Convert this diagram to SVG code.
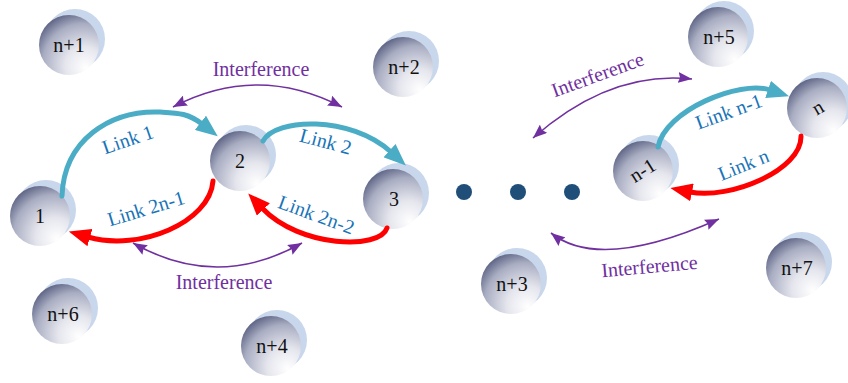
<svg xmlns="http://www.w3.org/2000/svg" width="848" height="383" viewBox="0 0 848 383">
<style>
.shadow{fill:#c9d7ec}
.ball{fill:url(#sphere)}
.nlabel{font-family:"Liberation Serif","Times New Roman",serif;font-size:20px;fill:#111;text-anchor:middle}
.link{fill:none;stroke-width:5;stroke-linecap:round}
.teal{stroke:#4bacc6}
.red{stroke:#ff0000}
.intf{fill:none;stroke:#7030a0;stroke-width:1.6}
.llabel{font-family:"Liberation Serif","Times New Roman",serif;font-size:20px;fill:#1874b8;text-anchor:middle}
.ilabel{font-family:"Liberation Serif","Times New Roman",serif;font-size:20px;fill:#7030a0;text-anchor:middle}
.dot{fill:#1f4e79}
</style>
<defs>
<radialGradient id="sphere" cx="0.72" cy="0.8" r="0.9" fx="0.78" fy="0.88">
<stop offset="0" stop-color="#ffffff"/>
<stop offset="0.35" stop-color="#e6e7ee"/>
<stop offset="0.75" stop-color="#a9adc2"/>
<stop offset="1" stop-color="#555c7e"/>
</radialGradient>
<marker id="ahTeal" markerUnits="userSpaceOnUse" markerWidth="22" markerHeight="18" refX="2" refY="9" orient="auto" viewBox="0 0 22 18"><path d="M0,0 L22,9 L0,18 Z" fill="#4bacc6"/></marker>
<marker id="ahRed" markerUnits="userSpaceOnUse" markerWidth="22" markerHeight="18" refX="2" refY="9" orient="auto" viewBox="0 0 22 18"><path d="M0,0 L22,9 L0,18 Z" fill="#ff0000"/></marker>
<marker id="ahPurple" markerUnits="userSpaceOnUse" markerWidth="14" markerHeight="11" refX="14" refY="5.5" orient="auto-start-reverse" viewBox="0 0 14 11"><path d="M0,0 L14,5.5 L0,11 L2,5.5 Z" fill="#7030a0"/></marker>
</defs>

<g id="node-n1"><circle class="shadow" cx="75" cy="39" r="30"/><circle class="ball" cx="69" cy="45" r="30"/><text class="nlabel" x="69" y="52">n+1</text></g>
<g id="node-n2"><circle class="shadow" cx="409" cy="61" r="30"/><circle class="ball" cx="403" cy="67" r="30"/><text class="nlabel" x="404" y="74">n+2</text></g>
<g id="node-n5"><circle class="shadow" cx="724" cy="31" r="30"/><circle class="ball" cx="718" cy="37" r="30"/><text class="nlabel" x="719" y="44">n+5</text></g>
<g id="node-1"><circle class="shadow" cx="46" cy="210" r="30"/><circle class="ball" cx="40" cy="216" r="30"/><text class="nlabel" x="40" y="223">1</text></g>
<g id="node-2"><circle class="shadow" cx="246" cy="155" r="30"/><circle class="ball" cx="240" cy="161" r="30"/><text class="nlabel" x="240" y="168">2</text></g>
<g id="node-3"><circle class="shadow" cx="399" cy="193" r="30"/><circle class="ball" cx="393" cy="199" r="30"/><text class="nlabel" x="394" y="206">3</text></g>
<g id="node-nm1"><circle class="shadow" cx="649" cy="165" r="30"/><circle class="ball" cx="643" cy="171" r="30"/><text class="nlabel" x="643" y="177" transform="rotate(-32 643 171)">n-1</text></g>
<g id="node-n"><circle class="shadow" cx="823" cy="102" r="30"/><circle class="ball" cx="817" cy="108" r="30"/><text class="nlabel" x="818" y="114" transform="rotate(-30 818 108)">n</text></g>
<g id="node-n6"><circle class="shadow" cx="68" cy="308" r="30"/><circle class="ball" cx="62" cy="314" r="30"/><text class="nlabel" x="63" y="321">n+6</text></g>
<g id="node-n4"><circle class="shadow" cx="277" cy="340" r="30"/><circle class="ball" cx="271" cy="346" r="30"/><text class="nlabel" x="272" y="353">n+4</text></g>
<g id="node-n3"><circle class="shadow" cx="517" cy="278" r="30"/><circle class="ball" cx="511" cy="284" r="30"/><text class="nlabel" x="512" y="291">n+3</text></g>
<g id="node-n7"><circle class="shadow" cx="802" cy="262" r="30"/><circle class="ball" cx="796" cy="268" r="30"/><text class="nlabel" x="797" y="275">n+7</text></g>

<g id="ellipsis"><circle class="dot" cx="464" cy="192" r="8"/><circle class="dot" cx="518" cy="192" r="8"/><circle class="dot" cx="572" cy="192" r="8"/></g>

<g id="connectors">
<path class="link teal" d="M62,196 C64,140 110,110 160,112 C178,113 188,113 202,124" marker-end="url(#ahTeal)"/>
<path class="link teal" d="M263,141 C275,118 350,115 391,152" marker-end="url(#ahTeal)"/>
<path class="link red" d="M213,181 C210,222 140,252 88,237" marker-end="url(#ahRed)"/>
<path class="link red" d="M387,228 C380,250 300,248 262,208" marker-end="url(#ahRed)"/>
<path class="link teal" d="M658,147 C665,110 740,80 770,90" marker-end="url(#ahTeal)"/>
<path class="link red" d="M801,136 C802,170 730,200 690,192" marker-end="url(#ahRed)"/>
<path class="intf" d="M173,107 Q257,63 342,107" marker-start="url(#ahPurple)" marker-end="url(#ahPurple)"/>
<path class="intf" d="M133,243 Q217,291 302,243" marker-start="url(#ahPurple)" marker-end="url(#ahPurple)"/>
<path class="intf" d="M533,138 Q610,70 692,79" marker-start="url(#ahPurple)" marker-end="url(#ahPurple)"/>
<path class="intf" d="M551,233 Q600,272 719,219" marker-start="url(#ahPurple)" marker-end="url(#ahPurple)"/>
<text class="llabel" x="130" y="146" transform="rotate(-19 130 146)">Link 1</text>
<text class="llabel" x="324" y="148" transform="rotate(15 324 148)">Link 2</text>
<text class="llabel" x="148" y="215" transform="rotate(-17 148 215)">Link 2n-1</text>
<text class="llabel" x="314" y="221" transform="rotate(20 314 221)">Link 2n-2</text>
<text class="llabel" x="731" y="118" transform="rotate(-20 731 118)">Link n-1</text>
<text class="llabel" x="746" y="171" transform="rotate(-22 746 171)">Link n</text>
<text class="ilabel" x="261" y="76">Interference</text>
<text class="ilabel" x="224" y="289">Interference</text>
<text class="ilabel" x="600" y="81" transform="rotate(-20 600 81)">Interference</text>
<text class="ilabel" x="650" y="273" transform="rotate(-5 650 273)">Interference</text>
</g>
</svg>
